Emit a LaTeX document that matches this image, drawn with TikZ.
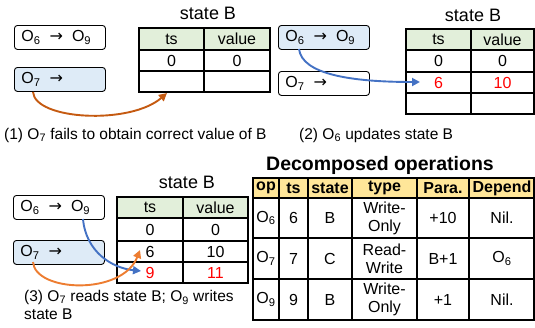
\documentclass[tikz,border=0pt]{standalone}
\usepackage{fontspec}
\setmainfont{Liberation Sans}
\newfontfamily\arrowfont{DejaVu Sans}
\usetikzlibrary{arrows.meta,positioning}
\definecolor{hdgreen}{HTML}{E2EFDA}
\definecolor{boxblue}{HTML}{DEEBF7}
\definecolor{hdyellow}{HTML}{FFE699}
\definecolor{darkorange}{HTML}{C55A11}
\definecolor{litorange}{HTML}{ED7D31}
\definecolor{arrblue}{HTML}{4472C4}
\newcommand{\nextop}{\hspace{9pt}{\arrowfont →}\hspace{9pt}}

\begin{document}
\begin{tikzpicture}[x = 1pt,
                    y = -1pt,
                    font = \fontsize{16}{18}\selectfont,
                    color = {black}]
% styles
\tikzset{opbox/.style={draw=black,rounded corners=3pt,line width=0.9pt,minimum height=24pt,
                       text width=77pt,inner xsep=7pt,inner ysep=0pt,align=left,anchor=north west},
         tbl/.style={draw=black,line width=1.1pt},
         cell/.style={inner sep=0pt,align=center},
         hdcell/.style={cell,font=\fontsize{16}{18}\selectfont\bfseries},
         title/.style={inner sep=0pt,font=\fontsize{18}{20}\selectfont},
         caption/.style={inner sep=0pt,anchor=west,font=\fontsize{15.5}{18}\selectfont},
         flow/.style={line width=1.9pt,-{Triangle[length=8pt,width=8pt]}}}
\useasboundingbox (0,0) rectangle (535,327);

%panel (1)
\node[opbox,fill=white] (a1) at (14,25) {O\textsubscript{6}\nextop O\textsubscript{9}};
\node[opbox,fill=boxblue] (b1) at (14,67) {O\textsubscript{7}\nextop};
\node[title] (st1) at (208,13) {state B};
\fill[hdgreen] (139,28) rectangle (270,50);
\draw[tbl] (139,28) rectangle (270,92);
\draw[tbl] (204,28) -- (204,92);
\draw[tbl] (139,50) -- (270,50);
\draw[tbl] (139,71) -- (270,71);
\node[cell] (ts1) at (171.5,39) {ts};
\node[cell] (va1) at (237,39) {value};
\node[cell] (r1a) at (171.5,60.5) {0};
\node[cell] (r1b) at (237,60.5) {0};
\node[caption] (cap1) at (4,135) {(1) O\textsubscript{7} fails to obtain correct value of B};
\coordinate (p1s) at (33,92);
\coordinate (p1e) at (167,93);
\draw[flow,darkorange] (p1s) .. controls (35,120) and (130,125) .. (p1e);

%panel (2)
\node[opbox,fill=boxblue] (a2) at (278,25) {O\textsubscript{6}\nextop O\textsubscript{9}};
\node[opbox,fill=white] (b2) at (278,71) {O\textsubscript{7}\nextop};
\node[title] (st2) at (473,15) {state B};
\fill[hdgreen] (406,29) rectangle (534,50);
\draw[tbl] (406,29) rectangle (534,114);
\draw[tbl] (471,29) -- (471,114);
\draw[tbl] (406,50) -- (534,50);
\draw[tbl] (406,72) -- (534,72);
\draw[tbl] (406,93) -- (534,93);
\node[cell] (ts2) at (438.5,39.5) {ts};
\node[cell] (va2) at (502.5,39.5) {value};
\node[cell] (r2a) at (438.5,61) {0};
\node[cell] (r2b) at (502.5,61) {0};
\node[cell,text=red] (r2c) at (438.5,82.5) {6};
\node[cell,text=red] (r2d) at (502.5,82.5) {10};
\node[caption] (cap2) at (299,135) {(2) O\textsubscript{6} updates state B};
\coordinate (p2s) at (299,49);
\coordinate (p2e) at (420,82);
\draw[flow,arrblue] (p2s) .. controls (302,74) and (350,82) .. (p2e);

%panel (3)
\node[opbox,fill=white] (a3) at (13,195) {O\textsubscript{6}\nextop O\textsubscript{9}};
\node[opbox,fill=boxblue] (b3) at (13,240) {O\textsubscript{7}\nextop};
\node[title] (st3) at (187,182) {state B};
\fill[hdgreen] (117,197) rectangle (248,218);
\draw[tbl] (117,197) rectangle (248,283);
\draw[tbl] (183,197) -- (183,283);
\draw[tbl] (117,218) -- (248,218);
\draw[tbl] (117,241) -- (248,241);
\draw[tbl] (117,262) -- (248,262);
\node[cell] (ts3) at (150,207.5) {ts};
\node[cell] (va3) at (215.5,207.5) {value};
\node[cell] (r3a) at (150,229.5) {0};
\node[cell] (r3b) at (215.5,229.5) {0};
\node[cell] (r3c) at (150,251.5) {6};
\node[cell] (r3d) at (215.5,251.5) {10};
\node[cell,text=red] (r3e) at (150,272.5) {9};
\node[cell,text=red] (r3f) at (215.5,272.5) {11};
\node[caption,anchor=north west,align=left] (cap3) at (24,290) {(3) O\textsubscript{7} reads state B; O\textsubscript{9} writes\\state B};
\coordinate (p3s) at (83,219);
\coordinate (p3e) at (141,271);
\coordinate (q3s) at (33,262);
\coordinate (q3e) at (140,250);
\draw[flow,arrblue] (p3s) .. controls (86,252) and (112,268) .. (p3e);
\draw[flow,litorange] (q3s) .. controls (35,292) and (122,296) .. (q3e);

%decomposed operations
\node[inner sep=0pt,font=\fontsize{19.5}{22}\selectfont\bfseries] (dtl) at (380,165) {Decomposed operations};
\fill[hdyellow] (253,178) rectangle (535,198);
\draw[tbl] (253,178) rectangle (534,320);
\draw[tbl] (279,178) -- (279,320);
\draw[tbl] (308,178) -- (308,320);
\draw[tbl] (352,178) -- (352,320);
\draw[tbl] (417,178) -- (417,320);
\draw[tbl] (469,178) -- (469,320);
\draw[tbl] (253,198) -- (534,198);
\draw[tbl] (253,238) -- (534,238);
\draw[tbl] (253,279) -- (534,279);
%header
\node[hdcell] (hop) at (266,188) {op};
\node[hdcell] (hts) at (293.5,188) {ts};
\node[hdcell] (hst) at (330,188) {state};
\node[hdcell] (hty) at (384.5,188) {type};
\node[hdcell] (hpa) at (443,188) {Para.};
\node[hdcell] (hde) at (502,188) {Depend};
%O6
\node[cell] (o6op) at (266,218) {O\textsubscript{6}};
\node[cell] (o6ts) at (293.5,218) {6};
\node[cell] (o6st) at (330,218) {B};
\node[cell] (o6ty) at (384.5,218) {Write-\\Only};
\node[cell] (o6pa) at (443,218) {+10};
\node[cell] (o6de) at (502,218) {Nil.};
%O7
\node[cell] (o7op) at (266,258.5) {O\textsubscript{7}};
\node[cell] (o7ts) at (293.5,258.5) {7};
\node[cell] (o7st) at (330,258.5) {C};
\node[cell] (o7ty) at (384.5,258.5) {Read-\\Write};
\node[cell] (o7pa) at (443,258.5) {B+1};
\node[cell] (o7de) at (502,258.5) {O\textsubscript{6}};
%O9
\node[cell] (o9op) at (266,299.5) {O\textsubscript{9}};
\node[cell] (o9ts) at (293.5,299.5) {9};
\node[cell] (o9st) at (330,299.5) {B};
\node[cell] (o9ty) at (384.5,299.5) {Write-\\Only};
\node[cell] (o9pa) at (443,299.5) {+1};
\node[cell] (o9de) at (502,299.5) {Nil.};
\end{tikzpicture}
\end{document}
